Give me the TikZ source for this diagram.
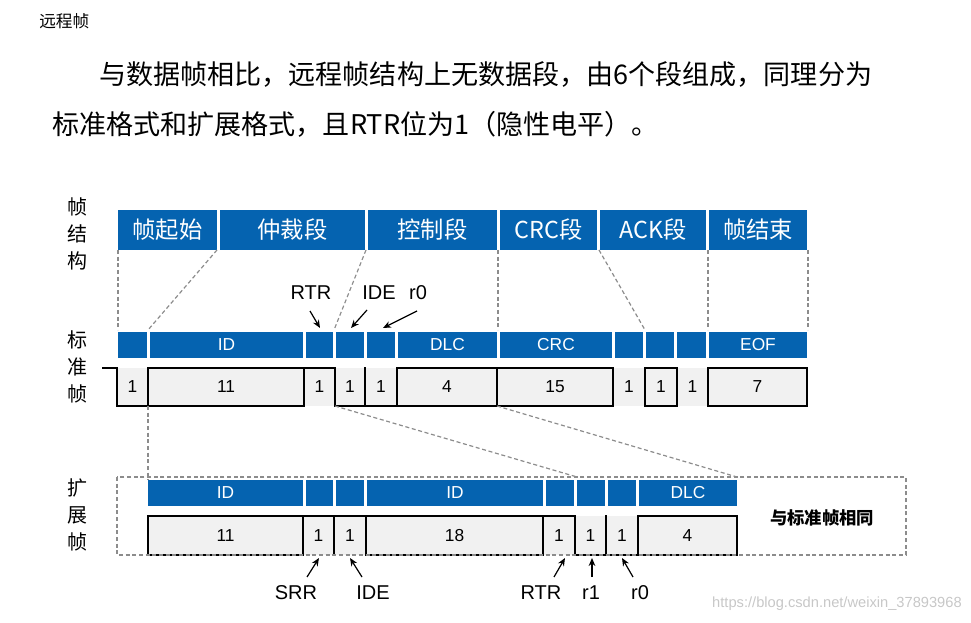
\documentclass[tikz,border=0pt]{standalone}
\usepackage{fontspec}
\setmainfont{Liberation Sans}
\newfontfamily\cjk{Noto Sans CJK SC}
\usetikzlibrary{arrows.meta}
\definecolor{blu}{HTML}{0563B0}
\definecolor{cellg}{HTML}{F1F1F1}
\definecolor{dgr}{HTML}{8C8C8C}
\newcommand\mycell[7]{\node[#6, minimum width={(#3-#2)*0.75pt}, minimum height={(#5-#4)*0.75pt}] (#1) at ({(#2+#3)/2},{(#4+#5)/2}) {#7};}
\tikzset{
 hd/.style={fill=blu, text=white, inner sep=0pt, font=\cjk\fontsize{17.5}{19}\selectfont},
 bl/.style={fill=blu, text=white, inner sep=0pt, font=\fontsize{13}{14}\selectfont},
 gc/.style={fill=cellg, inner sep=0pt, font=\fontsize{13}{14}\selectfont},
 wave/.style={line width=1.1pt, line cap=rect},
 dsh/.style={dgr, line width=0.9pt, dash pattern=on 3pt off 2pt},
 arr/.style={-{Stealth[length=6pt,width=5pt]}, line width=0.9pt},
 lbl/.style={inner sep=0pt, font=\fontsize{15}{17}\selectfont},
 side/.style={inner sep=0pt, align=center, font=\cjk\fontsize{15}{20}\selectfont}
}
\begin{document}
\begin{tikzpicture}[x=0.75pt,y=-0.75pt]
\useasboundingbox (0,0) rectangle (971,623);
% title and paragraph
\node[anchor=west, inner sep=0pt, font=\cjk\fontsize{12.5}{14}\selectfont] (title) at (39,21) {远程帧};
\node[anchor=west, inner sep=0pt, font=\cjk\fontsize{20.3}{24}\selectfont] (p1) at (99,75) {与数据帧相比，远程帧结构上无数据段，由6个段组成，同理分为};
\node[anchor=west, inner sep=0pt, font=\cjk\fontsize{20.3}{24}\selectfont] (p2) at (52,124) {标准格式和扩展格式，且RTR位为1（隐性电平）。};
% side labels
\node[side] (s1) at (77,234) {帧\\结\\构};
\node[side] (s2) at (77,367) {标\\准\\帧};
\node[side] (s3) at (77,515) {扩\\展\\帧};
% header
\mycell{h1}{118}{217}{210}{250}{hd}{帧起始}
\mycell{h2}{220}{365}{210}{250}{hd}{仲裁段}
\mycell{h3}{368}{497}{210}{250}{hd}{控制段}
\mycell{h4}{500}{597}{210}{250}{hd}{CRC段}
\mycell{h5}{600}{706}{210}{250}{hd}{ACK段}
\mycell{h6}{709}{807}{210}{250}{hd}{帧结束}
% standard blue row
\mycell{a1}{118}{147}{332}{358}{bl}{}
\mycell{a2}{150}{303}{332}{358}{bl}{ID}
\mycell{a3}{306}{333}{332}{358}{bl}{}
\mycell{a4}{336}{364}{332}{358}{bl}{}
\mycell{a5}{367}{395}{332}{358}{bl}{}
\mycell{a6}{398}{497}{332}{358}{bl}{DLC}
\mycell{a7}{500}{612}{332}{358}{bl}{CRC}
\mycell{a8}{615}{643}{332}{358}{bl}{}
\mycell{a9}{646}{674}{332}{358}{bl}{}
\mycell{a10}{677}{706}{332}{358}{bl}{}
\mycell{a11}{709}{807}{332}{358}{bl}{EOF}
% standard cells
\mycell{b1}{117}{148}{368}{406}{gc}{1}
\mycell{b2}{148}{304}{368}{406}{gc}{11}
\mycell{b3}{304}{335}{368}{406}{gc}{1}
\mycell{b4}{335}{365}{368}{406}{gc}{1}
\mycell{b5}{365}{397}{368}{406}{gc}{1}
\mycell{b6}{397}{497}{368}{406}{gc}{4}
\mycell{b7}{497}{613}{368}{406}{gc}{15}
\mycell{b8}{613}{645}{368}{406}{gc}{1}
\mycell{b9}{645}{677}{368}{406}{gc}{1}
\mycell{b10}{677}{708}{368}{406}{gc}{1}
\mycell{b11}{708}{807}{368}{406}{gc}{7}
% standard waveform
\draw[wave] (103,368) -- (117,368) -- (117,406) -- (304,406);
\draw[wave] (148,406) -- (148,368) -- (335,368) -- (335,406) -- (613,406);
\draw[wave] (304,368) -- (304,406);
\draw[wave] (365,368) -- (365,406);
\draw[wave] (397,406) -- (397,368) -- (613,368) -- (613,406);
\draw[wave] (497,368) -- (497,406);
\draw[wave] (645,368) rectangle (677,406);
\draw[wave] (708,368) rectangle (807,406);
% extended blue row
\mycell{c1}{148}{303}{480}{506}{bl}{ID}
\mycell{c2}{306}{333}{480}{506}{bl}{}
\mycell{c3}{336}{364}{480}{506}{bl}{}
\mycell{c4}{367}{543}{480}{506}{bl}{ID}
\mycell{c5}{546}{574}{480}{506}{bl}{}
\mycell{c6}{577}{605}{480}{506}{bl}{}
\mycell{c7}{608}{636}{480}{506}{bl}{}
\mycell{c8}{639}{737}{480}{506}{bl}{DLC}
% extended cells
\mycell{d1}{148}{303}{516}{555}{gc}{11}
\mycell{d2}{303}{334}{516}{555}{gc}{1}
\mycell{d3}{334}{366}{516}{555}{gc}{1}
\mycell{d4}{366}{543}{516}{555}{gc}{18}
\mycell{d5}{543}{575}{516}{555}{gc}{1}
\mycell{d6}{575}{606}{516}{555}{gc}{1}
\mycell{d7}{606}{638}{516}{555}{gc}{1}
\mycell{d8}{638}{737}{516}{555}{gc}{4}
% extended waveform
\draw[wave] (148,516) rectangle (303,555);
\draw[wave] (303,516) -- (575,516) -- (575,555) -- (638,555) -- (638,516) -- (737,516) -- (737,555) -- (638,555);
\draw[wave] (334,516) -- (334,555);
\draw[wave] (366,516) -- (366,555) -- (543,555) -- (543,516);
\draw[wave] (606,516) -- (606,555);
% dashed guides
\draw[dsh] (118,250) -- (118,330);
\draw[dsh] (217,250) -- (148,330);
\draw[dsh] (366,250) -- (334,330);
\draw[dsh] (498,250) -- (498,330);
\draw[dsh] (599,250) -- (645,330);
\draw[dsh] (708,250) -- (708,330);
\draw[dsh] (808,250) -- (808,330);
\draw[dsh] (148,406) -- (148,480);
\draw[dsh] (335,406) -- (577,477);
\draw[dsh] (497,406) -- (737,477);
\draw[dsh] (117,477) rectangle (906,555);
\node[inner sep=0pt, font=\cjk\bfseries\fontsize{13}{14}\selectfont] (same) at (822,518) {与标准帧相同};
% standard labels & arrows
\node[lbl] (rtr1) at (311,293) {RTR};
\node[lbl] (ide1) at (379,293) {IDE};
\node[lbl] (r01) at (418,293) {r0};
\draw[arr] (310,311) -- (320,328);
\draw[arr] (367,310) -- (351,328);
\draw[arr] (417,311) -- (383,328);
% extended labels & arrows
\node[lbl] (srr) at (296,593) {SRR};
\node[lbl] (ide2) at (373,593) {IDE};
\node[lbl] (rtr2) at (541,593) {RTR};
\node[lbl] (r1) at (591,593) {r1};
\node[lbl] (r02) at (640,593) {r0};
\draw[arr] (307,577) -- (319,558);
\draw[arr] (362,577) -- (350,558);
\draw[arr] (554,577) -- (565,558);
\draw[arr] (592,577) -- (592,558);
\draw[arr] (633,577) -- (622,558);
% watermark
\node[anchor=east, inner sep=0pt, text=black!22, font=\fontsize{11}{12}\selectfont] (wm) at (962,604) {https://blog.csdn.net/weixin\_37893968};
\end{tikzpicture}
\end{document}
